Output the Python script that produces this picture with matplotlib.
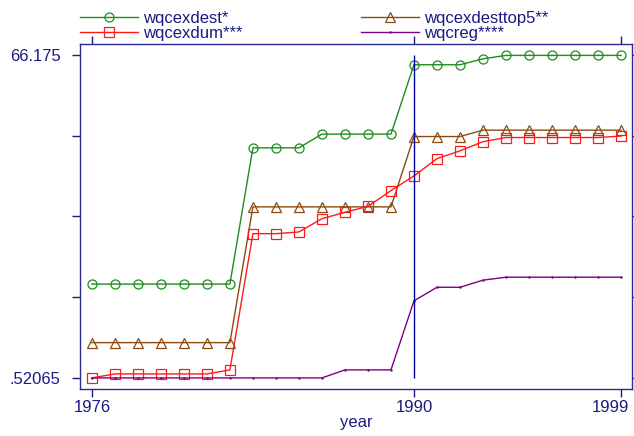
import matplotlib.pyplot as plt
import matplotlib.transforms as mtransforms
import numpy as np

plt.rcParams['font.family'] = ['Liberation Sans', 'DejaVu Sans']

years = np.arange(1976, 2000)

wqcexdest = [19.6, 19.6, 19.6, 19.6, 19.6, 19.6, 19.6,
             47.3, 47.3, 47.3,
             50.1, 50.1, 50.1, 50.1,
             64.2, 64.2, 64.2, 65.4,
             66.1, 66.1, 66.1, 66.1, 66.1, 66.1]
wqcexdesttop5 = [7.7, 7.7, 7.7, 7.7, 7.7, 7.7, 7.7,
                 35.3, 35.3, 35.3, 35.3, 35.3, 35.3, 35.3,
                 49.6, 49.6, 49.6,
                 50.9, 50.9, 50.9, 50.9, 50.9, 50.9, 50.9]
wqcexdum = [0.52, 1.33, 1.33, 1.33, 1.33, 1.33, 2.15,
            29.85, 29.85, 30.2, 32.9, 34.2, 35.4, 38.6,
            41.6, 45.1, 46.7, 48.55,
            49.4, 49.4, 49.4, 49.4, 49.4, 49.7]
wqcreg = [0.52, 0.52, 0.52, 0.52, 0.52, 0.52, 0.52, 0.52, 0.52, 0.52, 0.52,
          2.15, 2.15, 2.15,
          16.2, 18.95, 18.95, 20.4,
          21.0, 21.0, 21.0, 21.0, 21.0, 21.0]

ymin_lab = 0.52065
ymax_lab = 66.175
navy = '#1a1a80'

fig = plt.figure(figsize=(6.34, 4.36), dpi=100)
ax = fig.add_axes([0.126, 0.108, 0.871, 0.791])

l1, = ax.plot(years, wqcexdest, color='#1e8c1e', lw=1, marker='o', ms=6.5,
              mfc='none', mew=0.9, label='wqcexdest*')
l3, = ax.plot(years, wqcexdesttop5, color='#8b4a0f', lw=1, marker='^', ms=6.5,
              mfc='none', mew=0.9, label='wqcexdesttop5**')
l2, = ax.plot(years, wqcexdum, color='#ff1a1a', lw=1, marker='s', ms=6.5,
              mfc='none', mew=0.9, label='wqcexdum***')
l4, = ax.plot(years, wqcreg, color='#800080', lw=1, marker='.', ms=1.5,
              label='wqcreg****')
ax.vlines(1990, ymin_lab, ymax_lab, color='#0000a0', lw=1)

pad = (ymax_lab - ymin_lab) * 11 / 323
ax.set_ylim(ymin_lab - pad, ymax_lab + pad)
ax.set_xlim(1975.48, 1999.48)

ax.set_yticks(np.linspace(ymin_lab, ymax_lab, 5))
ax.set_yticklabels(['.52065', '', '', '', '66.175'])
ax.set_xticks([1976, 1990, 1999])
ax.set_xticklabels(['1976', '1990', '1999'])
ax.tick_params(axis='y', direction='out', length=6, width=1, color=navy,
               labelcolor=navy, labelsize=12, pad=8, right=True)
ax.tick_params(axis='x', direction='out', length=6, width=1, color=navy,
               labelcolor=navy, labelsize=12, pad=2, top=True)
for s in ax.spines.values():
    s.set_color('#2a2a90')
    s.set_linewidth(1)
ax.set_xlabel('year', color=navy, fontsize=12, labelpad=0)

# last year label pulled left so it stays inside the figure
last = ax.get_xticklabels()[-1]
last.set_transform(last.get_transform() +
                   mtransforms.ScaledTranslation(-11 / 100, 0, fig.dpi_scale_trans))

fig.legend(handles=[l1, l2, l3, l4], ncol=2, loc='upper left',
           bbox_to_anchor=(0.126, 0.975), frameon=False, fontsize=12,
           handlelength=3.5, handletextpad=0.3, columnspacing=7.1,
           labelspacing=0.0, borderpad=0, borderaxespad=0, labelcolor=navy)

fig.savefig('out.png', dpi=100)
